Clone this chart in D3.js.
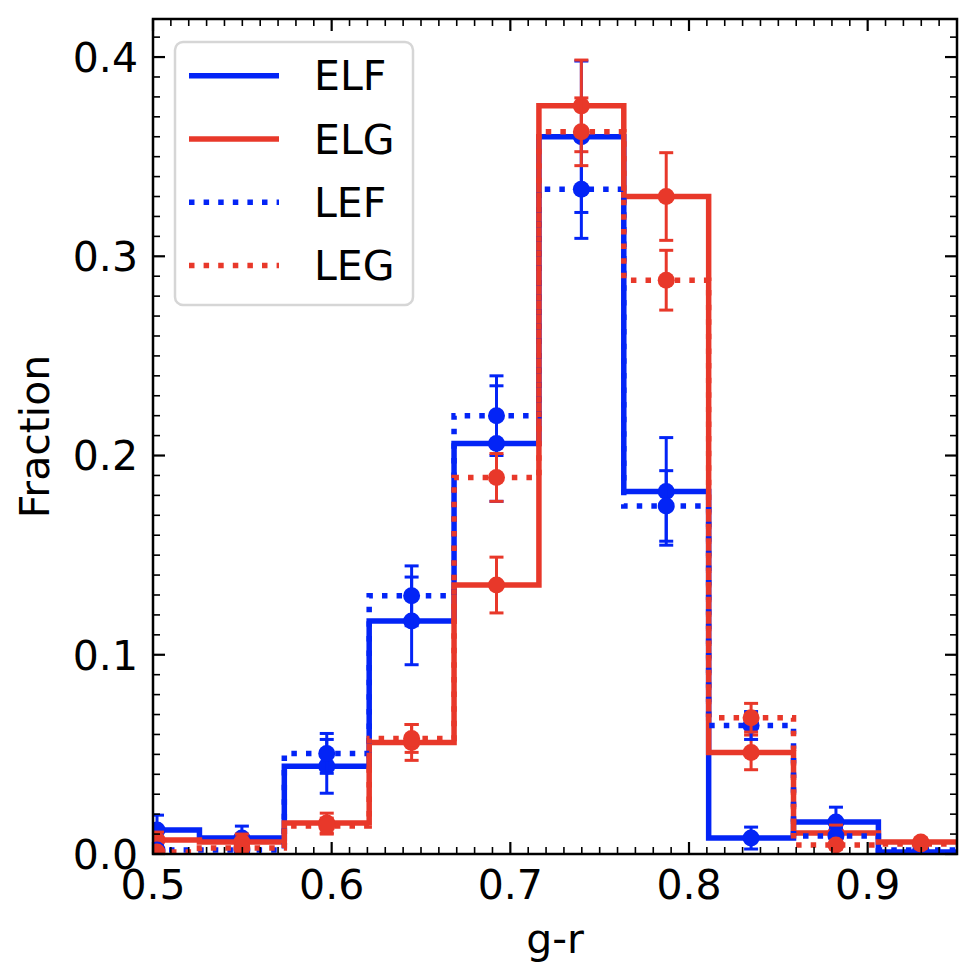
<html>

<head>
    <title>g-r fraction</title>
    <script src="https://d3js.org/d3.v7.min.js"></script>
    <style>
        body { margin: 0; background: #fff; }
        text { font-family: "DejaVu Sans", sans-serif; }
    </style>
</head>

<body>
    <div id="myPlot"></div>
    <script>
        // bin edges of the g-r histogram
        var binEdges = [0.4785, 0.526, 0.5735, 0.621, 0.6685, 0.716, 0.7635, 0.811, 0.8585, 0.906, 0.9535];

        // fraction per bin, one array per sample
        var elf = [0.012, 0.008, 0.044, 0.117, 0.206, 0.360, 0.182, 0.008, 0.016, 0.001];
        var elfErr = [0.0075, 0.006, 0.0135, 0.022, 0.029, 0.038, 0.027, 0.0055, 0.0075, 0.001];
        var elg = [0.007, 0.006, 0.0155, 0.056, 0.135, 0.3755, 0.330, 0.051, 0.0105, 0.006];
        var elgErr = [0.004, 0.004, 0.005, 0.009, 0.014, 0.023, 0.022, 0.0087, 0.004, 0.002];
        var lef = [0.002, 0.002, 0.0505, 0.1296, 0.220, 0.3337, 0.1747, 0.0645, 0.009, 0.002];
        var lefErr = [0.002, 0.002, 0.010, 0.015, 0.020, 0.0247, 0.0177, 0.007, 0.004, 0.001];
        var leg = [0.001, 0.003, 0.014, 0.058, 0.189, 0.3625, 0.288, 0.0684, 0.0045, 0.005];
        var legErr = [0.001, 0.002, 0.004, 0.007, 0.012, 0.017, 0.015, 0.0072, 0.002, 0.002];

        var xTicks = [0.5, 0.6, 0.7, 0.8, 0.9];
        var yTicks = [0.0, 0.1, 0.2, 0.3, 0.4];

        var blue = "#0324f6", red = "#e8382a";
        var series = [
            { name: "ELF", vals: elf, err: elfErr, color: blue, dotted: false },
            { name: "ELG", vals: elg, err: elgErr, color: red, dotted: false },
            { name: "LEF", vals: lef, err: lefErr, color: blue, dotted: true },
            { name: "LEG", vals: leg, err: legErr, color: red, dotted: true }
        ];

        var W = 976, H = 974;
        var pLeft = 153, pRight = 957, pTop = 19, pBottom = 854;
        var fs = "41px";

        var svg = d3.select("#myPlot").append("svg")
            .attr("width", W)
            .attr("height", H);

        var x = d3.scaleLinear().domain([0.5, 0.95]).range([pLeft, pRight]);
        var y = d3.scaleLinear().domain([0, 0.4191]).range([pBottom, pTop]);

        svg.append("defs").append("clipPath").attr("id", "clip")
            .append("rect")
            .attr("x", pLeft).attr("y", pTop)
            .attr("width", pRight - pLeft).attr("height", pBottom - pTop);

        var plot = svg.append("g").attr("clip-path", "url(#clip)");

        var centers = binEdges.slice(0, -1).map(function (e, i) { return (e + binEdges[i + 1]) / 2; });

        function stepPath(vals) {
            var pts = [[binEdges[0], 0]];
            vals.forEach(function (v, i) {
                pts.push([binEdges[i], v]);
                pts.push([binEdges[i + 1], v]);
            });
            pts.push([binEdges[binEdges.length - 1], 0]);
            return d3.line().x(function (d) { return x(d[0]); }).y(function (d) { return y(d[1]); })(pts);
        }

        var lw = 5.5;
        series.forEach(function (s) {
            plot.append("path")
                .attr("d", stepPath(s.vals))
                .attr("fill", "none")
                .attr("stroke", s.color)
                .attr("stroke-width", lw)
                .attr("stroke-dasharray", s.dotted ? "5.5,9.1" : null)
                .attr("stroke-linejoin", "miter");

            var g = plot.append("g");
            s.vals.forEach(function (v, i) {
                var cx = x(centers[i]);
                var y1 = y(v + s.err[i]), y2 = y(v - s.err[i]);
                g.append("line")
                    .attr("x1", cx).attr("x2", cx).attr("y1", y1).attr("y2", y2)
                    .attr("stroke", s.color).attr("stroke-width", 3);
                [y1, y2].forEach(function (cy) {
                    g.append("line")
                        .attr("x1", cx - 7).attr("x2", cx + 7).attr("y1", cy).attr("y2", cy)
                        .attr("stroke", s.color).attr("stroke-width", 3);
                });
                g.append("circle")
                    .attr("cx", cx).attr("cy", y(v)).attr("r", 8.5)
                    .attr("fill", s.color);
            });
        });

        // ticks on all four sides, pointing in
        var xMinor = d3.range(50, 96).map(function (d) { return d / 100; });
        var yMinor = d3.range(0, 42).map(function (d) { return d / 100; });
        var ticks = svg.append("g").attr("stroke", "#000");
        xMinor.forEach(function (t) {
            var major = Math.abs(t * 10 - Math.round(t * 10)) < 1e-6;
            var len = major ? 12 : 7;
            ticks.append("line").attr("x1", x(t)).attr("x2", x(t)).attr("y1", pBottom).attr("y2", pBottom - len)
                .attr("stroke-width", major ? 2.2 : 1.6);
            ticks.append("line").attr("x1", x(t)).attr("x2", x(t)).attr("y1", pTop).attr("y2", pTop + len)
                .attr("stroke-width", major ? 2.2 : 1.6);
        });
        yMinor.forEach(function (t) {
            var major = Math.abs(t * 10 - Math.round(t * 10)) < 1e-6;
            var len = major ? 12 : 7;
            ticks.append("line").attr("x1", pLeft).attr("x2", pLeft + len).attr("y1", y(t)).attr("y2", y(t))
                .attr("stroke-width", major ? 2.2 : 1.6);
            ticks.append("line").attr("x1", pRight).attr("x2", pRight - len).attr("y1", y(t)).attr("y2", y(t))
                .attr("stroke-width", major ? 2.2 : 1.6);
        });

        svg.append("rect")
            .attr("x", pLeft).attr("y", pTop)
            .attr("width", pRight - pLeft).attr("height", pBottom - pTop)
            .attr("fill", "none").attr("stroke", "#000").attr("stroke-width", 2.5);

        // tick labels
        svg.selectAll(".xlab").data(xTicks).enter().append("text")
            .attr("x", function (d) { return x(d); })
            .attr("y", 899)
            .attr("text-anchor", "middle")
            .style("font-size", fs)
            .text(function (d) { return d3.format(".1f")(d); });

        svg.selectAll(".ylab").data(yTicks).enter().append("text")
            .attr("x", 138)
            .attr("y", function (d) { return y(d); })
            .attr("dy", "0.36em")
            .attr("text-anchor", "end")
            .style("font-size", fs)
            .text(function (d) { return d3.format(".1f")(d); });

        svg.append("text")
            .attr("x", (pLeft + pRight) / 2).attr("y", 953)
            .attr("text-anchor", "middle")
            .style("font-size", fs)
            .text("g-r");

        svg.append("text")
            .attr("transform", "translate(49," + (pTop + pBottom) / 2 + ") rotate(-90)")
            .attr("text-anchor", "middle")
            .style("font-size", fs)
            .text("Fraction");

        // legend
        var lg = svg.append("g");
        lg.append("rect")
            .attr("x", 175).attr("y", 42).attr("width", 238).attr("height", 263)
            .attr("rx", 8).attr("ry", 8)
            .attr("fill", "#fff").attr("fill-opacity", 0.8)
            .attr("stroke", "#d6d6d6").attr("stroke-width", 2.5);
        series.forEach(function (s, i) {
            var ry = 75.7 + i * 63.3;
            lg.append("line")
                .attr("x1", 189).attr("x2", 279).attr("y1", ry).attr("y2", ry)
                .attr("stroke", s.color).attr("stroke-width", lw)
                .attr("stroke-dasharray", s.dotted ? "5.5,9.1" : null);
            lg.append("text")
                .attr("x", 314).attr("y", ry).attr("dy", "0.36em")
                .style("font-size", fs)
                .text(s.name);
        });
    </script>
</body>

</html>
